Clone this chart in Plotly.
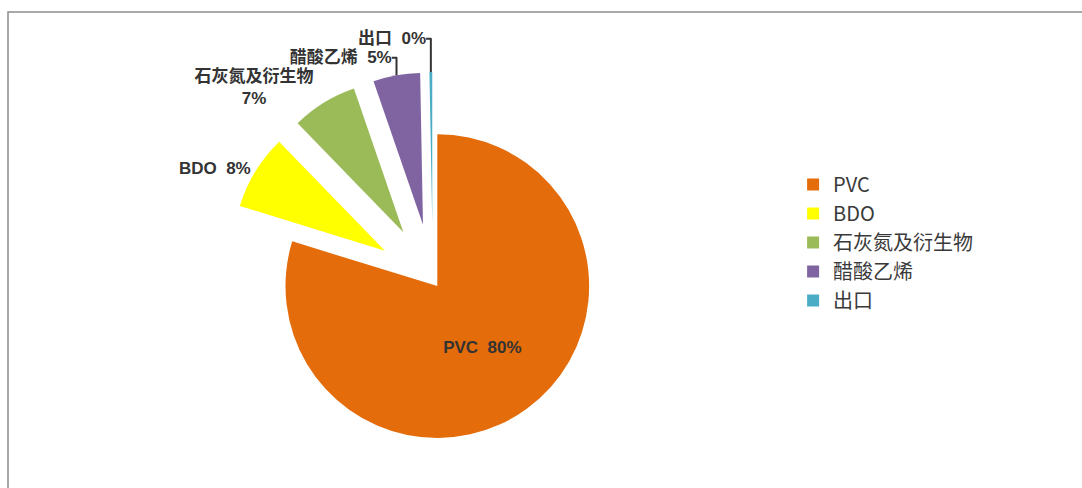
import plotly.graph_objects as go

# ---- data ----
categories = ["PVC", "BDO", "石灰氮及衍生物", "醋酸乙烯", "出口"]
values = [80, 8, 7, 5, 0.3]
colors = ["#E46C0A", "#FFFF00", "#9BBB59", "#8064A2", "#4BACC6"]
pulls = [0.05, 0.37, 0.37, 0.37, 0.37]
text_templates = [
    "%{label}  %{percent:.0%}",
    "%{label}  %{percent:.0%}",
    "%{label}<br>%{percent:.0%}",
    "%{label}  %{percent:.0%}",
    "%{label}  %{percent:.0%}",
]
text_positions = ["inside", "outside", "outside", "outside", "outside"]

FONT = "Noto Sans CJK SC, Open Sans, sans-serif"
LABEL_FONT = "Liberation Sans, Noto Sans CJK SC, sans-serif"

W, H = 1082, 488
M_T, M_B, M_L, M_R = 72, 0, 0, 0
plot_h = H - M_T - M_B

fig = go.Figure(
    go.Pie(
        labels=categories,
        values=values,
        sort=False,
        direction="clockwise",
        rotation=0,
        pull=pulls,
        marker=dict(colors=colors, line=dict(width=0)),
        texttemplate=text_templates,
        textposition=text_positions,
        insidetextorientation="horizontal",
        textfont=dict(family=LABEL_FONT, size=17, color="#333333", weight="bold"),
        domain=dict(x=[0.15, 0.65], y=[0, 1]),
        showlegend=True,
    )
)

fig.update_layout(
    width=W,
    height=H,
    margin=dict(l=M_L, r=M_R, t=M_T, b=M_B, autoexpand=False),
    paper_bgcolor="white",
    plot_bgcolor="white",
    font=dict(family=FONT, color="#3a3a3a"),
    legend=dict(
        x=0.733,
        y=(H - 165 - M_B) / plot_h,
        xanchor="left",
        yanchor="top",
        font=dict(family=FONT, size=20, color="#3a3a3a"),
        itemclick=False,
    ),
    shapes=[
        dict(
            type="rect",
            xref="paper",
            yref="paper",
            x0=8 / W,
            x1=1.02,
            y0=-0.02,
            y1=(H - 12 - M_B) / plot_h,
            line=dict(color="#8c8c8c", width=1.5),
            fillcolor="rgba(0,0,0,0)",
            layer="below",
        )
    ],
)

fig.write_html("out.html")
